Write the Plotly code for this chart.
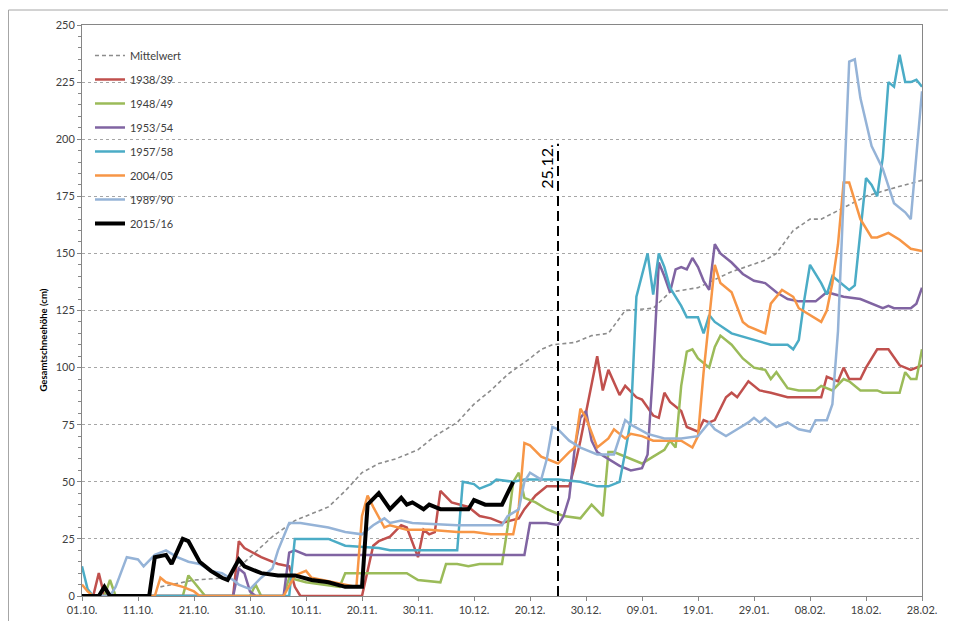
import plotly.graph_objects as go

# x = day index counted from 01.10. (0) to 28.02. (150)
TICK_DAYS = list(range(0, 151, 10))
TICK_LABELS = ["01.10.", "11.10.", "21.10.", "31.10.", "10.11.", "20.11.", "30.11.", "10.12.",
               "20.12.", "30.12.", "09.01.", "19.01.", "29.01.", "08.02.", "18.02.", "28.02."]

MW_DAYS = [14, 18, 20, 26, 30, 34, 38, 44, 47, 50, 53, 56, 60, 63, 67, 70, 73, 76, 80, 82, 84, 88, 91, 94,
           97, 102, 105, 110, 116, 122, 124, 127, 130, 132, 136, 140, 144, 150]
MW_VALS = [4, 6, 7, 8, 17, 26, 33, 39, 46, 54, 58, 60, 64, 70, 76, 84, 90, 97, 104, 108, 110, 111, 114, 115,
           125, 126, 133, 135, 142, 147, 150, 160, 165, 165, 170, 175, 178, 182]

S1938_DAYS = [0, 2, 3, 4, 27, 28, 29, 32, 35, 37, 38, 39, 50, 52, 53, 55, 57, 58, 60, 61, 62, 63, 64, 66, 69,
              71, 73, 75, 78, 79, 81, 83, 85, 87, 88, 89, 92, 93, 94, 96, 97, 99, 100, 102, 103, 104, 105,
              107, 108, 110, 111, 112, 113, 115, 116, 117, 119, 121, 123, 126, 128, 132, 133, 135, 136, 137,
              139, 140, 142, 144, 146, 148, 150]
S1938_VALS = [0, 0, 10, 0, 0, 24, 21, 17, 14, 13, 4, 0, 0, 22, 24, 26, 31, 30, 17, 29, 27, 28, 46, 41, 39,
              35, 34, 32, 34, 38, 44, 48, 48, 48, 57, 68, 105, 90, 99, 88, 92, 87, 86, 79, 78, 89, 85,
              81, 74, 72, 77, 76, 77, 87, 89, 87, 94, 90, 89, 87, 87, 87, 96, 94, 100, 95,
              95, 100, 108, 108, 101, 99, 101]

S1948_DAYS = [0, 4, 5, 6, 18, 19, 20, 21, 22, 30, 31, 32, 36, 37, 40, 46, 47, 58, 60, 64, 65, 67, 69, 71, 75,
              76, 77, 78, 79, 81, 83, 85, 86, 89, 91, 93, 94, 95, 97, 100, 102, 104, 105, 106, 107, 108, 109,
              110, 111, 112, 113, 114, 116, 118, 120, 122, 123, 124, 126, 128, 131, 132, 134, 136, 137, 139,
              142, 143, 146, 147, 148, 149, 150]
S1948_VALS = [0, 0, 7, 0, 0, 9, 6, 3, 0, 0, 5, 0, 0, 8, 6, 4, 10, 10, 7, 6, 14, 14, 13, 14, 14,
              30, 50, 54, 43, 41, 38, 36, 35, 34, 40, 35, 63, 63, 61, 58, 61, 64, 68, 65, 92, 107, 108,
              104, 102, 100, 109, 114, 110, 104, 100, 99, 95, 98, 91, 90, 90, 92, 90, 95, 94, 90,
              90, 89, 89, 98, 95, 95, 108]

S1953_DAYS = [0, 27, 28, 29, 30, 31, 36, 37, 38, 40, 79, 80, 83, 85, 86, 87, 88, 89, 90, 91, 92, 94, 96, 98,
              100, 101, 102, 103, 104, 105, 106, 107, 108, 109, 110, 111, 112, 113, 114, 116, 118, 120, 122,
              124, 126, 128, 131, 133, 136, 139, 142, 143, 144, 145, 148, 149, 150]
S1953_VALS = [0, 0, 12, 10, 2, 0, 0, 19, 20, 18, 18, 32, 32, 31, 35, 43, 65, 78, 81, 68, 63, 60, 57, 55,
              56, 62, 100, 146, 140, 133, 143, 144, 143, 148, 144, 138, 134, 154, 150, 146, 141, 138, 137,
              133, 130, 129, 129, 133, 131, 130, 127, 126, 127, 126, 126, 128, 135]

S1957_DAYS = [0, 1, 2, 37, 38, 44, 47, 53, 55, 67, 68, 70, 71, 73, 74, 77, 79, 85, 89, 92, 94, 96, 97, 98, 99,
              101, 102, 103, 104, 105, 107, 108, 110, 111, 112, 113, 116, 120, 123, 126, 127, 128, 129, 130,
              132, 133, 134, 135, 137, 138, 139, 140, 141, 142, 143, 144, 145, 146, 147, 148, 149, 150]
S1957_VALS = [13, 3, 0, 0, 25, 25, 22, 21, 20, 20, 50, 49, 47, 49, 51, 50, 51, 51, 50, 48, 48, 50, 63, 77, 131,
              150, 132, 150, 144, 135, 127, 122, 122, 115, 123, 120, 115, 112, 110, 110, 108, 112, 130, 145,
              137, 132, 140, 138, 134, 136, 161, 183, 180, 175, 192, 225, 223, 237, 225, 225, 226, 223]

S2004_DAYS = [0, 1, 2, 13, 14, 15, 18, 20, 21, 36, 38, 40, 41, 43, 49, 50, 51, 52, 54, 55, 58, 62, 67, 70, 73,
              77, 78, 79, 80, 82, 84, 85, 87, 88, 89, 90, 92, 94, 95, 97, 98, 100, 102, 104, 107, 109, 110,
              111, 113, 114, 116, 118, 119, 122, 123, 125, 127, 128, 132, 133, 134, 135, 136, 137, 139, 141,
              142, 144, 146, 148, 150]
S2004_VALS = [5, 2, 0, 0, 8, 6, 4, 2, 0, 0, 9, 11, 8, 7, 4, 35, 44, 39, 30, 31, 29, 29, 28, 28, 27,
              27, 39, 67, 66, 61, 59, 58, 63, 65, 82, 78, 65, 69, 73, 69, 71, 70, 68, 68, 68, 65, 70,
              98, 145, 137, 133, 120, 118, 115, 128, 134, 131, 126, 120, 125, 137, 154, 181, 181, 165, 157,
              157, 159, 156, 152, 151]

S1989_DAYS = [0, 5, 6, 8, 10, 11, 13, 15, 17, 19, 21, 23, 25, 27, 28, 30, 32, 34, 35, 37, 39, 44, 47, 50, 52,
              54, 55, 57, 59, 67, 75, 76, 78, 79, 80, 82, 83, 84, 85, 87, 89, 92, 95, 97, 98, 101, 104, 107,
              110, 112, 113, 115, 117, 119, 120, 121, 122, 124, 126, 128, 130, 131, 133, 134, 135, 136, 137,
              138, 139, 141, 143, 145, 147, 148, 150]
S1989_VALS = [0, 0, 4, 17, 16, 13, 18, 20, 17, 15, 14, 11, 10, 7, 5, 3, 8, 12, 20, 32, 32, 30, 28, 27, 31,
              34, 32, 33, 32, 31, 31, 35, 38, 50, 54, 51, 60, 74, 73, 68, 65, 62, 62, 77, 75, 71, 69, 69,
              70, 76, 73, 70, 73, 76, 78, 76, 78, 74, 76, 73, 72, 77, 77, 84, 116, 175, 234,
              235, 218, 197, 187, 172, 168, 165, 221]

S2015_DAYS = [0, 3, 4, 5, 12, 13, 15, 16, 18, 19, 21, 23, 25, 26, 28, 29, 32, 35, 38, 41, 44, 47, 50, 51, 53,
              55, 57, 58, 59, 61, 62, 64, 69, 70, 72, 75, 76, 77]
S2015_VALS = [0, 0, 4, 0, 0, 17, 18, 14, 25, 24, 15, 11, 8, 7, 16, 13, 10, 9, 9, 7, 6, 4, 4, 40, 45,
              38, 43, 40, 41, 38, 40, 38, 38, 42, 40, 40, 45, 50]

MARK_DAY = 85
MARK_TOP = 198
MARK_LABEL = "25.12."
Y_TITLE = "Gesamtschneehöhe (cm)"

SERIES = [
    ("1938/39", S1938_DAYS, S1938_VALS, "#C0504D", 2.5),
    ("1948/49", S1948_DAYS, S1948_VALS, "#9BBB59", 2.5),
    ("1953/54", S1953_DAYS, S1953_VALS, "#8064A2", 2.5),
    ("1957/58", S1957_DAYS, S1957_VALS, "#4BACC6", 2.5),
    ("2004/05", S2004_DAYS, S2004_VALS, "#F79646", 2.5),
    ("1989/90", S1989_DAYS, S1989_VALS, "#95B3D7", 2.5),
    ("2015/16", S2015_DAYS, S2015_VALS, "#000000", 4),
]

FONT = "Lato"
W, H = 948, 613          # page body adds an 8px margin
ML, MR, MT, MB = 74, 34, 17, 25
PW, PH = W - ML - MR, H - MT - MB

fig = go.Figure()
fig.add_trace(go.Scatter(x=MW_DAYS, y=MW_VALS, name="Mittelwert", mode="lines", legendgroup="mw",
                         line=dict(color="#8c8c8c", width=1.6, dash="4px,3px")))
for name, xs, ys, col, w in SERIES:
    fig.add_trace(go.Scatter(x=xs, y=ys, name=name, mode="lines", legendgroup=name,
                             line=dict(color=col, width=w)))

fig.add_shape(type="line", xref="x", yref="y", x0=MARK_DAY, x1=MARK_DAY, y0=0, y1=MARK_TOP,
              line=dict(color="black", width=2, dash="10px,5px"))
fig.add_annotation(x=MARK_DAY - 2.1, y=188, xref="x", yref="y", text=MARK_LABEL, textangle=-90,
                   showarrow=False, font=dict(size=16, color="black", family=FONT))
# y-axis title placed as text
fig.add_annotation(x=(27 - ML) / PW, y=1 - (332 - MT) / PH, xref="paper", yref="paper",
                   text="<b>" + Y_TITLE + "</b>", textangle=-90, showarrow=False,
                   font=dict(size=9.5, color="#000000", family=FONT))
# outer chart border
fig.add_shape(type="rect", xref="paper", yref="paper", x0=(0.5 - ML) / PW, x1=1.1, y0=-0.2,
              y1=1 + (MT - 2) / PH, line=dict(color="#a6a6a6", width=1), layer="below")

axis_common = dict(showline=True, linecolor="#868686", linewidth=1, mirror=True, ticks="outside",
                   tickcolor="#868686", ticklen=4, zeroline=False, automargin=False,
                   tickfont=dict(size=11, color="#404040", family=FONT))
fig.update_xaxes(range=[0, 150], tickmode="array", tickvals=TICK_DAYS, ticktext=TICK_LABELS,
                 showgrid=False, **axis_common)
fig.update_yaxes(range=[0, 250], tick0=0, dtick=25, showgrid=True, gridcolor="#a6a6a6", griddash="dot",
                 gridwidth=1,
                 minor=dict(dtick=5, ticks="outside", ticklen=3, tickcolor="#868686", showgrid=False),
                 **axis_common)

fig.update_layout(
    width=W, height=H,
    margin=dict(l=ML, r=MR, t=MT, b=MB),
    plot_bgcolor="white", paper_bgcolor="white",
    font=dict(family=FONT, color="#404040"),
    showlegend=True,
    legend=dict(x=0.0095, y=0.972, xanchor="left", yanchor="top", bgcolor="rgba(255,255,255,0)",
                font=dict(size=11, color="#404040", family=FONT), tracegroupgap=5),
)

fig.write_html("out.html")
